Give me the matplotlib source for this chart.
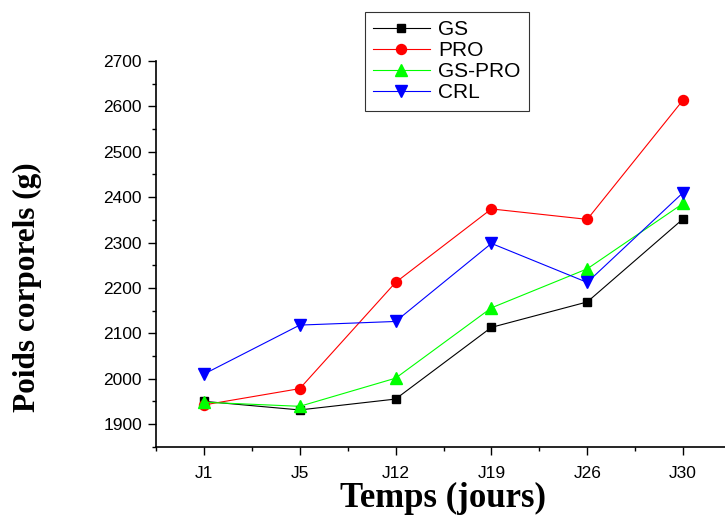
import matplotlib
matplotlib.use('Agg')
import matplotlib.pyplot as plt

# data
jours = ['J1', 'J5', 'J12', 'J19', 'J26', 'J30']
gs = [1950, 1931, 1955, 2113, 2169, 2352]
pro = [1942, 1978, 2212, 2374, 2351, 2614]
gs_pro = [1948, 1939, 2001, 2156, 2242, 2386]
crl = [2010, 2118, 2126, 2298, 2212, 2410]

plt.rcParams['font.family'] = ['Liberation Sans', 'DejaVu Sans']

fig = plt.figure(figsize=(7.25, 5.16), dpi=100)
ax = fig.add_axes([156 / 725, 1 - 446.7 / 516, (731 - 156) / 725, (446.7 - 61) / 516])

x = list(range(1, len(jours) + 1))
ax.plot(x, gs, color='black', lw=0.8, marker='s', ms=6.3, label='GS')
ax.plot(x, pro, color='#ff0000', lw=0.8, marker='o', ms=7.2, label='PRO')
ax.plot(x, gs_pro, color='#00ff00', lw=0.8, marker='^', ms=8, label='GS-PRO')
ax.plot(x, crl, color='#0000ff', lw=0.8, marker='v', ms=8, label='CRL')

ax.set_xlim(0.5, 6.5)
ax.set_ylim(1850, 2700)
ax.set_xticks(x)
ax.set_xticklabels(jours)
ax.set_xticks([0.5 + i for i in range(7)], minor=True)
ax.set_yticks(range(1900, 2701, 100))
ax.set_yticks(range(1850, 2701, 50), minor=True)

for s in ['top', 'right']:
    ax.spines[s].set_visible(False)
for s in ['left', 'bottom']:
    ax.spines[s].set_linewidth(1.2)

ax.tick_params(which='major', direction='out', length=6, width=1, labelsize=12.5)
ax.tick_params(which='minor', direction='out', length=3.2, width=1)
ax.tick_params(axis='x', which='major', pad=8)
ax.tick_params(axis='y', which='major', pad=4)

fig.text(443 / 725, 1 - 498 / 516, 'Temps (jours)', family='Liberation Serif',
         fontweight='bold', fontsize=25, ha='center', va='center')
fig.text(27 / 725, 1 - 287 / 516, 'Poids corporels (g)', family='Liberation Serif',
         fontweight='bold', fontsize=22.5, ha='center', va='center', rotation=90)

leg = fig.legend(loc='upper left', bbox_to_anchor=(365 / 725, 1 - 11.7 / 516),
                 fontsize=15, frameon=True, fancybox=False, borderaxespad=0,
                 handlelength=2.7, labelspacing=0.1, handletextpad=0.4,
                 borderpad=0.4)
leg.get_frame().set_edgecolor('black')
leg.get_frame().set_linewidth(0.8)

fig.savefig('out.png', dpi=100)
